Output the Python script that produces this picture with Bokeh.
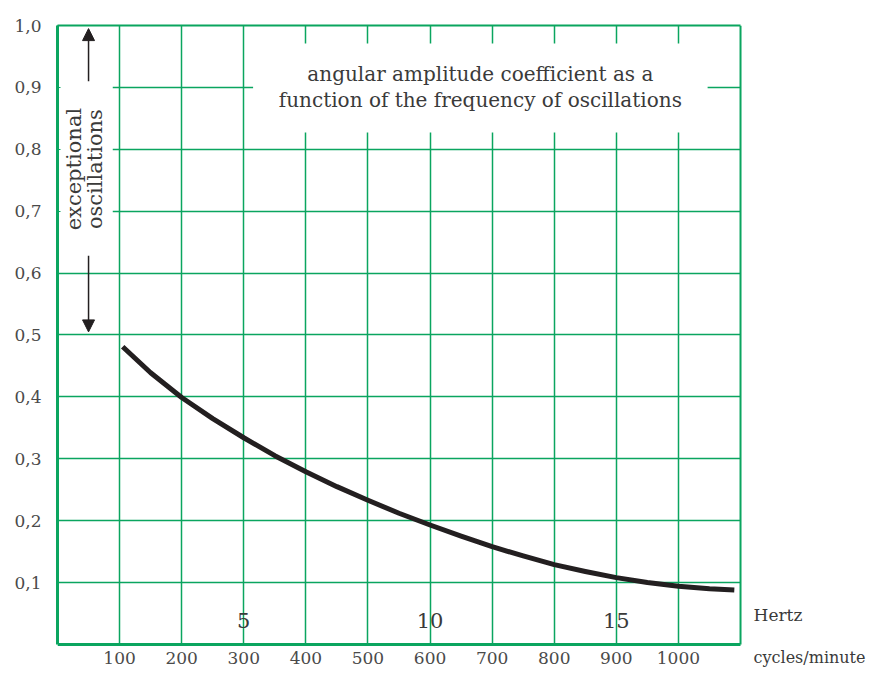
from math import pi
from bokeh.plotting import figure
from bokeh.models import Range1d, FixedTicker, LinearAxis, Label, Arrow, NormalHead
from bokeh.core.properties import value
from bokeh.embed import file_html
from bokeh.resources import INLINE

# ---- data ----
cpm = [105, 150, 200, 250, 300, 350, 400, 450, 500, 550, 600, 650, 700,
       750, 800, 850, 900, 950, 1000, 1050, 1090]
coef = [0.481, 0.439, 0.399, 0.365, 0.334, 0.305, 0.279, 0.255, 0.233, 0.212,
        0.193, 0.175, 0.158, 0.143, 0.129, 0.118, 0.108, 0.100, 0.094, 0.090, 0.088]

x_ticks = [100, 200, 300, 400, 500, 600, 700, 800, 900, 1000]
x_tick_labels = ["100", "200", "300", "400", "500", "600", "700", "800", "900", "1000"]
y_ticks = [0.1, 0.2, 0.3, 0.4, 0.5, 0.6, 0.7, 0.8, 0.9, 1.0]
y_tick_labels = ["0,1", "0,2", "0,3", "0,4", "0,5", "0,6", "0,7", "0,8", "0,9", "1,0"]
hertz_values = [5, 10, 15]
hertz_labels = ["5", "10", "15"]
unit_labels = ["Hertz", "cycles/minute"]

title_lines = ["angular amplitude coefficient as a",
               "function of the frequency of oscillations"]
side_lines = ["exceptional", "oscillations"]

X_MAX = 1100
GREEN = "#0aa55f"
FONT = "DejaVu Serif"
TXT = "#3a3a3a"

# the frame reaches the right and bottom canvas edges so that the unit texts lie inside it
p = figure(width=877, height=669, output_backend="svg", toolbar_location=None,
           x_range=Range1d(0, 1320.6), y_range=Range1d(-0.0404, 1.0),
           min_border_left=57, min_border_right=0, min_border_top=25,
           min_border_bottom=0, x_axis_location="below", y_axis_location="left")
p.outline_line_color = None
p.background_fill_color = "white"
p.border_fill_color = "white"

# ticks / grid
p.xaxis.ticker = FixedTicker(ticks=x_ticks)
p.yaxis.ticker = FixedTicker(ticks=y_ticks)
p.xaxis.major_label_overrides = {t: l for t, l in zip(x_ticks, x_tick_labels)}
p.yaxis.major_label_overrides = {t: l for t, l in zip(y_ticks, y_tick_labels)}
for g in (p.xgrid, p.ygrid):
    g.grid_line_color = GREEN
    g.grid_line_width = 1.5

# axes as borders
for ax in (p.xaxis, p.yaxis):
    ax.axis_line_color = GREEN
    ax.axis_line_width = 3
    ax.major_label_text_font = FONT
    ax.major_label_text_font_size = "17px"
    ax.major_label_text_color = "#4a4a4a"
    ax.minor_tick_line_color = None
p.xaxis.fixed_location = 0
p.xaxis.bounds = (0, X_MAX)
p.xaxis.major_tick_line_color = None
p.xaxis.major_label_standoff = 2
p.yaxis.bounds = (0, 1.0)
p.yaxis.major_tick_line_color = GREEN
p.yaxis.major_tick_in = 3
p.yaxis.major_tick_out = 0
p.yaxis.major_label_standoff = 16
p.yaxis.major_label_text_baseline = "alphabetic"

top_axis = LinearAxis(ticker=FixedTicker(ticks=[]), axis_line_color=GREEN,
                      axis_line_width=2, major_tick_line_color=None, bounds=(0, X_MAX),
                      minor_tick_line_color=None, major_label_text_font_size="0px")
p.add_layout(top_axis, "above")

# white panels masking the grid
p.quad(left=[315, 0, 0, X_MAX], right=[1047, 89, X_MAX, 1400],
       bottom=[0.827, 0.62, -0.05, -0.05], top=[0.971, 1.0, 0.0, 1.05],
       fill_color="white", line_color=None)
# right border of the chart box
p.segment(x0=[X_MAX], y0=[0], x1=[X_MAX], y1=[1.0], line_color=GREEN, line_width=2)

# curve
p.line(cpm, coef, line_color="#231f20", line_width=5, line_cap="butt", line_join="round")

# texts
p.add_layout(Label(x=681, y=0.922, text=title_lines[0], text_align="center",
                   text_baseline="middle", text_font=FONT, text_font_size="20px",
                   text_color=TXT))
p.add_layout(Label(x=681, y=0.879, text=title_lines[1], text_align="center",
                   text_baseline="middle", text_font=FONT, text_font_size="20px",
                   text_color=TXT))
p.add_layout(Label(x=26, y=0.768, text=side_lines[0], angle=pi / 2, text_align="center",
                   text_baseline="middle", text_font=FONT, text_font_size="21px",
                   text_color=TXT))
p.add_layout(Label(x=61, y=0.768, text=side_lines[1], angle=pi / 2, text_align="center",
                   text_baseline="middle", text_font=FONT, text_font_size="21px",
                   text_color=TXT))
for hz, lab in zip(hertz_values, hertz_labels):
    p.add_layout(Label(x=hz * 60, y=0.039, text=lab, text_align="center",
                       text_baseline="middle", text_font=FONT, text_font_size="21px",
                       text_color=TXT))
p.text(x=[1121], y=[0.048], text=unit_labels[:1],
       text_font=value(FONT), text_font_size="17px", text_color=TXT,
       text_align="left", text_baseline="middle")
p.text(x=[1121], y=[-0.021], text=unit_labels[1:],
       text_font=value(FONT), text_font_size="16px", text_color=TXT,
       text_align="left", text_baseline="middle")

# arrows
p.add_layout(Arrow(end=NormalHead(size=12, fill_color="#231f20", line_color="#231f20"),
                   x_start=50, y_start=0.91, x_end=50, y_end=0.995,
                   line_color="#231f20", line_width=1.5))
p.add_layout(Arrow(end=NormalHead(size=12, fill_color="#231f20", line_color="#231f20"),
                   x_start=50, y_start=0.628, x_end=50, y_end=0.505,
                   line_color="#231f20", line_width=1.5))

open("out.html", "w").write(file_html(p, INLINE))
